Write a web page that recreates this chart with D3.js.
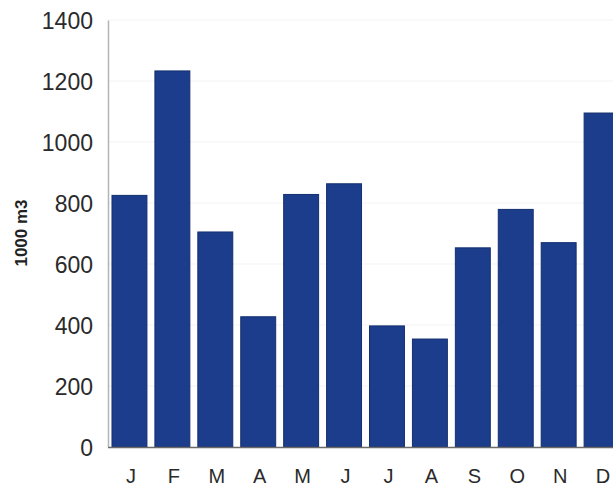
<!DOCTYPE html>
<html>
<head>
<meta charset="utf-8">
<script src="https://cdn.jsdelivr.net/npm/d3@7/dist/d3.min.js"></script>
<style>
  html, body { margin: 0; padding: 0; background: #fff; overflow: hidden; }
  svg { display: block; }
</style>
</head>
<body>
<svg id="chart" width="613" height="487"></svg>
<script>
// Monthly volumes (1000 m3)
const months = ["J", "F", "M", "A", "M", "J", "J", "A", "S", "O", "N", "D"];
const volumes = [825, 1233, 705, 427, 828, 863, 397, 354, 653, 779, 670, 1095];
const yTicks = [0, 200, 400, 600, 800, 1000, 1200, 1400];
const yLabel = "1000 m3";

const svg = d3.select("#chart");
const x0 = 108, yBase = 447, yTop = 20;

const x = d3.scaleBand()
  .domain(d3.range(months.length))
  .range([x0, x0 + 42.92 * months.length])
  .paddingInner(0.186)
  .paddingOuter(0.093);

const y = d3.scaleLinear().domain([0, 1400]).range([yBase, yTop]);

// faint horizontal gridlines
svg.append("g")
  .selectAll("line")
  .data(yTicks.filter(d => d > 0))
  .join("line")
  .attr("x1", x0).attr("x2", 613)
  .attr("y1", d => y(d)).attr("y2", d => y(d))
  .attr("stroke", "#f3f3f3")
  .attr("stroke-width", 1);

// bars
svg.append("g")
  .selectAll("rect")
  .data(volumes)
  .join("rect")
  .attr("x", (d, i) => x(i))
  .attr("y", d => y(d))
  .attr("width", x.bandwidth())
  .attr("height", d => yBase - y(d))
  .attr("fill", "#1c3d8c")
  .attr("stroke", "#132f6e")
  .attr("stroke-width", 1);

// y axis
const yAxis = d3.axisLeft(y).tickValues(yTicks).tickFormat(d3.format("d")).tickSize(0).tickPadding(15);
const gy = svg.append("g").attr("transform", `translate(${x0},0)`).call(yAxis);
gy.select(".domain").attr("stroke", "#b4b4b4").attr("stroke-width", 1.5);
gy.selectAll("text")
  .attr("font-family", "Liberation Sans, Arial, sans-serif")
  .attr("font-size", 23)
  .attr("fill", "#2a2a2a")
  .attr("dy", "0.36em");

// baseline
svg.append("line")
  .attr("x1", x0).attr("x2", 613)
  .attr("y1", yBase + 0.5).attr("y2", yBase + 0.5)
  .attr("stroke", "#6a6a6a")
  .attr("stroke-width", 1.5);

// x axis labels
const xAxis = d3.axisBottom(x).tickFormat(i => months[i]).tickSize(0).tickPadding(22);
const gx = svg.append("g").attr("transform", `translate(0,${yBase})`).call(xAxis);
gx.select(".domain").remove();
gx.selectAll("text")
  .attr("font-family", "Liberation Sans, Arial, sans-serif")
  .attr("font-size", 20)
  .attr("fill", "#2a2a2a")
  .attr("dx", "1.5");

// y axis title
svg.append("text")
  .attr("transform", "translate(27,233) rotate(-90)")
  .attr("text-anchor", "middle")
  .attr("font-family", "Liberation Sans, Arial, sans-serif")
  .attr("font-weight", "bold")
  .attr("font-size", 17)
  .attr("fill", "#222")
  .text(yLabel);
</script>
</body>
</html>
